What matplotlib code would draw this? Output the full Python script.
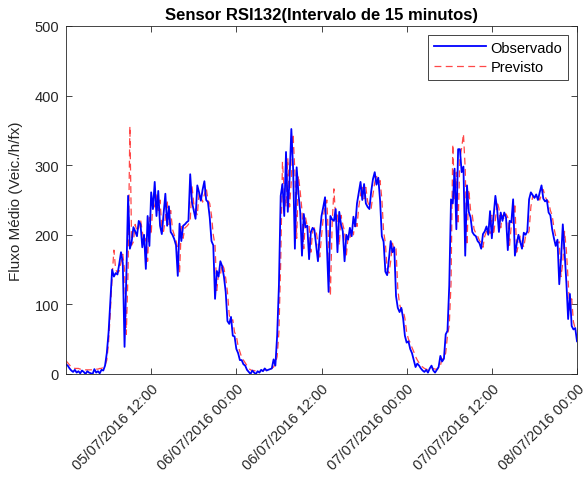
import matplotlib
matplotlib.use('Agg')
import matplotlib.pyplot as plt
import matplotlib.dates as mdates
import pandas as pd

# leituras a cada 15 minutos, 05/07/2016 00:00 ate 08/07/2016 00:00
inicio = '2016-07-05 00:00'
n_pontos = 289

observado = [
    14, 12, 8, 5, 3, 6, 2, 4, 1, 5, 3, 0, 4, 2, 1, 0, 7, 2, 4, 1,
    6, 5, 12, 30, 60, 105, 150, 140, 145, 143, 158, 175, 160, 39, 140, 256, 180, 190, 211, 205,
    198, 220, 215, 182, 200, 151, 227, 184, 261, 237, 276, 227, 263, 213, 201, 230, 259, 213, 241, 204,
    200, 194, 185, 141, 216, 191, 213, 215, 218, 220, 287, 247, 235, 223, 271, 261, 249, 265, 277, 250,
    247, 225, 191, 185, 108, 148, 140, 162, 155, 140, 118, 76, 72, 82, 55, 54, 36, 30, 20,
    20, 14, 12, 6, 3, 0, 5, 2, 0, 4, 2, 6, 4, 8, 5, 6, 7, 8, 21, 12,
    55, 127, 256, 273, 227, 319, 233, 280, 352, 295, 180, 297, 260, 233, 170, 230, 211, 213, 165, 204,
    210, 207, 185, 162, 200, 227, 240, 254, 185, 118, 227, 222, 220, 237, 175, 233, 215, 205, 162, 200,
    193, 210, 198, 226, 212, 245, 261, 276, 250, 273, 245, 240, 237, 262, 280, 290, 272, 282, 250, 198,
    190, 147, 142, 165, 191, 175, 182, 112, 95, 89, 95, 80, 55, 45, 47, 36,
    30, 20, 10, 15, 12, 8, 5, 3, 6, 2, 8, 12, 5, 2, 6, 10, 26, 18, 22, 57,
    62, 127, 251, 245, 295, 208, 323, 323, 290, 298, 170, 271, 233, 225, 204, 200, 198, 191, 188, 180,
    201, 205, 212, 200, 234, 195, 227, 256, 237, 204, 232, 220, 232, 225, 178, 220, 218, 251, 170, 187,
    200, 190, 180, 203, 200, 205, 251, 261, 257, 253, 258, 250, 261, 271, 252, 248, 250, 232, 228, 208,
    195, 184, 193, 129, 165, 215, 175, 132, 79, 115, 69, 64, 66, 47,
]

previsto = [
    19, 16, 13, 10, 9, 8, 8, 8, 7, 7, 7, 6, 6, 6, 6, 6, 6, 7, 7, 8,
    8, 10, 12, 20, 45, 90, 140, 178, 150, 145, 148, 160, 172, 150, 57, 150, 356, 185, 190, 215,
    205, 210, 222, 205, 190, 195, 162, 225, 200, 250, 240, 260, 235, 250, 210, 205, 225, 250, 215, 235,
    208, 200, 192, 180, 145, 212, 195, 210, 212, 215, 220, 270, 245, 235, 228, 260, 255, 247, 258, 268,
    250, 245, 228, 200, 185, 120, 145, 142, 158, 152, 138, 118, 85, 75, 78, 60, 55, 40, 32,
    24, 20, 16, 12, 8, 6, 5, 5, 4, 4, 4, 5, 5, 6, 7, 7, 7, 8, 10, 15,
    25, 60, 160, 305, 262, 240, 310, 240, 278, 345, 290, 195, 285, 262, 235, 180, 225, 212, 213, 175,
    205, 210, 205, 188, 168, 198, 225, 240, 250, 190, 112, 215, 266, 222, 232, 185, 228, 215, 205, 170,
    198, 195, 208, 200, 222, 212, 240, 258, 270, 252, 268, 248, 240, 238, 258, 275, 285, 272, 278, 252,
    205, 188, 150, 145, 162, 188, 178, 180, 122, 100, 92, 92, 80, 60, 50, 45,
    38, 32, 25, 20, 16, 12, 10, 8, 7, 6, 6, 7, 8, 7, 7, 8, 12, 22, 25, 30,
    55, 70, 130, 330, 250, 290, 215, 310, 325, 345, 295, 185, 265, 236, 228, 208, 202, 198, 192, 188,
    182, 198, 205, 210, 202, 228, 200, 222, 248, 238, 210, 228, 222, 230, 225, 185, 215, 218, 245, 175,
    185, 198, 192, 182, 198, 200, 205, 240, 255, 255, 252, 255, 250, 258, 265, 255, 250, 248, 235, 228,
    210, 198, 188, 190, 140, 160, 205, 178, 135, 88, 108, 75, 65, 62,
]

tempo = pd.date_range(inicio, periods=n_pontos, freq='15min')

plt.rcParams['font.family'] = ['Liberation Sans', 'DejaVu Sans']
cinza = '#262626'

fig = plt.figure(figsize=(5.87, 4.81), dpi=100)
ax = fig.add_axes([66 / 587, 106 / 481, 511 / 587, 348 / 481])

l2, = ax.plot(tempo, previsto, color='#ff4848', lw=0.9, dashes=(5.5, 3.5), label='Previsto')
l1, = ax.plot(tempo, observado, '-', color='#0000ff', lw=1.3, label='Observado')

ax.set_xlim(pd.Timestamp('2016-07-05 00:00'), pd.Timestamp('2016-07-08 00:00'))
ax.set_ylim(0, 500)
ax.set_yticks(range(0, 501, 100))
ax.set_xticks(pd.date_range('2016-07-05 12:00', '2016-07-08 00:00', freq='12h'))
ax.xaxis.set_major_formatter(mdates.DateFormatter('%d/%m/%Y %H:%M'))

ax.tick_params(direction='in', top=True, right=True, length=4, width=0.6,
               colors=cinza, labelsize=10.5, pad=5)
plt.setp(ax.get_xticklabels(), rotation=45, ha='right', rotation_mode='anchor')
for s in ax.spines.values():
    s.set_color(cinza)
    s.set_linewidth(0.6)

ax.set_ylabel('Fluxo Médio (Veic./h/fx)', fontsize=11, color=cinza, labelpad=8)
ax.set_title('Sensor RSI132(Intervalo de 15 minutos)', fontsize=12, fontweight='bold', pad=5)

leg = ax.legend(handles=[l1, l2], loc='upper right', fontsize=10.5, fancybox=False,
                framealpha=1, edgecolor=cinza, borderaxespad=0.6, handlelength=3.6,
                borderpad=0.4, labelspacing=0.35, handletextpad=0.3)
leg.get_frame().set_linewidth(0.6)

fig.savefig('out.png', dpi=100)
